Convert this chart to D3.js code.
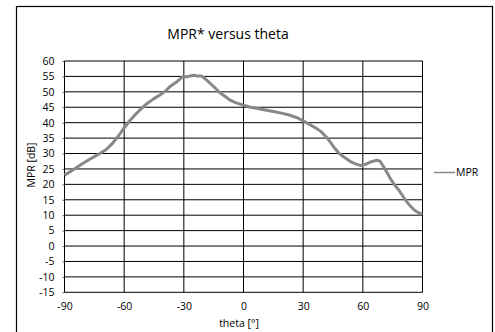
<!DOCTYPE html>
<html>
<head>
<meta charset="utf-8">
<script src="https://cdn.jsdelivr.net/npm/d3@7"></script>
<style>
  body { margin: 0; background: #fff; }
  text { font-family: "Open Sans", "DejaVu Sans", sans-serif; fill: #000; }
</style>
</head>
<body>
<svg id="chart"></svg>
<script>
// theta [°] and MPR [dB]
const theta = [-90, -86, -82, -78, -75, -72, -69, -66, -63, -60, -57, -54, -51, -48, -45, -42, -39, -37, -34, -31, -28, -25, -23, -21, -18.5, -16, -14, -12, -9, -7, -4, 0, 3, 7, 11, 15, 19, 23, 27, 30, 33, 36, 39, 42, 44, 46, 48, 51, 54, 57, 59, 61, 64, 67, 68.5, 70, 72, 74, 76, 78, 80, 82, 84, 86, 88, 90];
const mpr   = [23, 24.6, 26.3, 27.9, 29, 30.1, 31.3, 33.2, 35.6, 38.3, 40.8, 42.9, 44.8, 46.5, 47.8, 49, 50.4, 51.7, 53, 54.7, 55, 55.4, 55.1, 55.1, 53.8, 52.3, 51.1, 49.8, 48.4, 47.4, 46.5, 45.7, 45.1, 44.6, 44.1, 43.6, 43.1, 42.5, 41.6, 40.6, 39.5, 38.4, 37.1, 35.1, 33.4, 31.6, 30.1, 28.6, 27.3, 26.5, 26.1, 26.4, 27.3, 27.8, 27.6, 26.2, 24, 21.7, 19.8, 18.2, 16.3, 14.4, 12.9, 11.6, 10.8, 10.3];

const xTicks = [-90, -60, -30, 0, 30, 60, 90];
const yTicks = d3.range(-15, 61, 5);

const W = 495, H = 332;
const svg = d3.select("#chart").attr("width", W).attr("height", H);

// 외곽 테두리
svg.append("rect")
   .attr("x", 16.5).attr("y", 6.5)
   .attr("width", 476).attr("height", 340)
   .attr("fill", "none")
   .attr("stroke", "#000")
   .attr("stroke-width", 1.2);

const x = d3.scaleLinear([-90, 90], [64.5, 422.5]);
const y = d3.scaleLinear([-15, 60], [292.3, 61]);

// grid
const grid = svg.append("g").attr("stroke", "#000").attr("stroke-width", 1);
grid.selectAll("line.h")
    .data(yTicks)
    .join("line")
    .attr("class", "h")
    .attr("x1", x(-90)).attr("x2", x(90))
    .attr("y1", d => y(d)).attr("y2", d => y(d));
grid.selectAll("line.v")
    .data(xTicks)
    .join("line")
    .attr("class", "v")
    .attr("y1", y(-15)).attr("y2", y(60))
    .attr("x1", d => x(d)).attr("x2", d => x(d));

// y 축
svg.append("g")
   .attr("transform", `translate(${x(-90)},0)`)
   .call(d3.axisLeft(y).tickValues(yTicks).tickSize(2).tickPadding(8).tickSizeOuter(0).tickFormat(d => String(d)))
   .call(g => g.select(".domain").remove())
   .call(g => g.selectAll(".tick line").attr("stroke", "#000").attr("stroke-width", 0.6))
   .call(g => g.selectAll(".tick text").attr("font-size", 10.5).attr("fill", "#000"));

// x 축
svg.append("g")
   .attr("transform", `translate(0,${y(-15)})`)
   .call(d3.axisBottom(x).tickValues(xTicks).tickSize(0).tickPadding(10).tickSizeOuter(0).tickFormat(d => String(d)))
   .call(g => g.select(".domain").remove())
   .call(g => g.selectAll(".tick text").attr("font-size", 10.5).attr("fill", "#000"));

// 데이터 선
const line = d3.line().x(d => x(d[0])).y(d => y(d[1]));
svg.append("path")
   .datum(theta.map((t, i) => [t, mpr[i]]))
   .attr("fill", "none")
   .attr("stroke", "#888")
   .attr("stroke-width", 3)
   .attr("stroke-linejoin", "round")
   .attr("d", line);

// 제목 / 축 이름
svg.append("text")
   .attr("x", 228).attr("y", 39)
   .attr("text-anchor", "middle")
   .attr("font-size", 14)
   .text("MPR* versus theta");

svg.append("text")
   .attr("x", 239).attr("y", 327)
   .attr("text-anchor", "middle")
   .attr("font-size", 10.5)
   .text("theta [°]");

svg.append("text")
   .attr("transform", "translate(35,165) rotate(-90)")
   .attr("text-anchor", "middle")
   .attr("font-size", 10.5)
   .text("MPR [dB]");

// 범례
svg.append("line")
   .attr("x1", 434).attr("x2", 455)
   .attr("y1", 172.5).attr("y2", 172.5)
   .attr("stroke", "#888").attr("stroke-width", 1.5);
svg.append("text")
   .attr("x", 456).attr("y", 176)
   .attr("font-size", 10.5)
   .text("MPR");
</script>
</body>
</html>
